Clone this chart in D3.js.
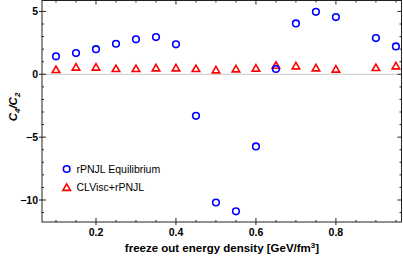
<!DOCTYPE html>
<html>
<head>
<meta charset="utf-8">
<script src="https://cdn.jsdelivr.net/npm/d3@7"></script>
<style>
  body { margin: 0; background: #fff; }
  svg { display: block; font-family: "Liberation Sans", Arial, sans-serif; }
</style>
</head>
<body>
<div id="chart"></div>
<script>
// freeze out energy density values
const energy = [0.1, 0.15, 0.2, 0.25, 0.3, 0.35, 0.4, 0.45, 0.5, 0.55, 0.6, 0.65, 0.7, 0.75, 0.8, 0.9, 0.95];
const equilibrium = [1.43, 1.69, 2.0, 2.43, 2.78, 2.96, 2.38, -3.3, -10.2, -10.9, -5.74, 0.42, 4.05, 4.97, 4.55, 2.88, 2.22];
const clvisc = [0.37, 0.56, 0.56, 0.45, 0.45, 0.5, 0.5, 0.45, 0.34, 0.42, 0.48, 0.71, 0.66, 0.5, 0.4, 0.53, 0.66];
const xTicks = [0.2, 0.4, 0.6, 0.8];
const yTicks = [5, 0, -5, -10];
const seriesNames = ["rPNJL Equilibrium", "CLVisc+rPNJL"];

const width = 403, height = 259;
const plotLeft = 42, plotRight = 401.5, plotTop = 0.5, plotBottom = 222;

const svg = d3.select("#chart").append("svg")
    .attr("width", width)
    .attr("height", height);

const x = d3.scaleLinear().domain([0.065, 0.964]).range([plotLeft, plotRight]);
const y = d3.scaleLinear().domain([-11.75, 5.87]).range([plotBottom, plotTop]);

// zero line
svg.append("line")
    .attr("x1", plotLeft).attr("x2", plotRight)
    .attr("y1", y(0)).attr("y2", y(0))
    .attr("stroke", "#c8c8c8").attr("stroke-width", 1);

// frame
svg.append("rect")
    .attr("x", plotLeft).attr("y", plotTop)
    .attr("width", plotRight - plotLeft).attr("height", plotBottom - plotTop)
    .attr("fill", "none").attr("stroke", "#222").attr("stroke-width", 1);

// ticks (straddle the frame, Mathematica style)
const minorX = d3.range(0.1, 0.96, 0.05);
const minorY = d3.range(-11, 6, 1);
const tickG = svg.append("g").attr("stroke", "#222").attr("stroke-width", 1);

minorX.forEach(v => {
    const major = xTicks.some(t => Math.abs(t - v) < 1e-6);
    const len = major ? 4 : 2;
    tickG.append("line").attr("x1", x(v)).attr("x2", x(v)).attr("y1", plotBottom - len).attr("y2", plotBottom + (major ? 3 : 0));
    tickG.append("line").attr("x1", x(v)).attr("x2", x(v)).attr("y1", plotTop).attr("y2", plotTop + len);
});
minorY.forEach(v => {
    const major = yTicks.includes(v);
    const len = major ? 4 : 2;
    tickG.append("line").attr("y1", y(v)).attr("y2", y(v)).attr("x1", plotLeft - (major ? 3 : 0)).attr("x2", plotLeft + len);
    tickG.append("line").attr("y1", y(v)).attr("y2", y(v)).attr("x1", plotRight - len).attr("x2", plotRight);
});

// tick labels
svg.append("g").selectAll("text")
    .data(xTicks)
    .enter().append("text")
    .attr("x", d => x(d))
    .attr("y", 236)
    .attr("text-anchor", "middle")
    .attr("font-size", 10.5)
    .attr("font-weight", "bold")
    .text(d => d.toFixed(1));

svg.append("g").selectAll("text")
    .data(yTicks)
    .enter().append("text")
    .attr("x", 38)
    .attr("y", d => y(d) + 3.8)
    .attr("text-anchor", "end")
    .attr("font-size", 10.5)
    .attr("font-weight", "bold")
    .text(d => d < 0 ? "\u2212" + Math.abs(d) : d);

// axis labels
const xl = svg.append("text")
    .attr("x", 222).attr("y", 252)
    .attr("text-anchor", "middle")
    .attr("font-size", 11.5)
    .attr("font-weight", "bold")
    .text("freeze out energy density [GeV/fm");
xl.append("tspan").attr("dy", -4).attr("font-size", 8).text("3");
xl.append("tspan").attr("dy", 4).text("]");

const yl = svg.append("text")
    .attr("transform", "translate(17,107) rotate(-90)")
    .attr("text-anchor", "middle")
    .attr("font-size", 11.5)
    .attr("font-weight", "bold")
    .attr("font-style", "italic");
yl.append("tspan").text("C");
yl.append("tspan").attr("dy", 3).attr("font-size", 8).text("4");
yl.append("tspan").attr("dy", -3).text("/C");
yl.append("tspan").attr("dy", 3).attr("font-size", 8).text("2");

// markers
const triangle = (cx, cy) => {
    const s = 3.6;
    return `M${cx},${cy - s}L${cx + s * 1.05},${cy + s * 0.8}L${cx - s * 1.05},${cy + s * 0.8}Z`;
};

svg.append("g").selectAll("path")
    .data(energy.map((e, i) => [e, clvisc[i]]))
    .enter().append("path")
    .attr("d", d => triangle(x(d[0]), y(d[1])))
    .attr("fill", "none")
    .attr("stroke", "#ff0000")
    .attr("stroke-width", 1.6);

svg.append("g").selectAll("circle")
    .data(energy.map((e, i) => [e, equilibrium[i]]))
    .enter().append("circle")
    .attr("cx", d => x(d[0]))
    .attr("cy", d => y(d[1]))
    .attr("r", 3.3)
    .attr("fill", "none")
    .attr("stroke", "#0000ff")
    .attr("stroke-width", 1.6);

// legend
const lg = svg.append("g");
lg.append("circle").attr("cx", 66.7).attr("cy", 169).attr("r", 3.3)
    .attr("fill", "none").attr("stroke", "#0000ff").attr("stroke-width", 1.6);
lg.append("path").attr("d", triangle(66.7, 187.5))
    .attr("fill", "none").attr("stroke", "#ff0000").attr("stroke-width", 1.6);
lg.selectAll("text")
    .data(seriesNames)
    .enter().append("text")
    .attr("x", 76.5)
    .attr("y", (d, i) => 172.5 + i * 18.5)
    .attr("font-size", 10.5)
    .text(d => d);
</script>
</body>
</html>
